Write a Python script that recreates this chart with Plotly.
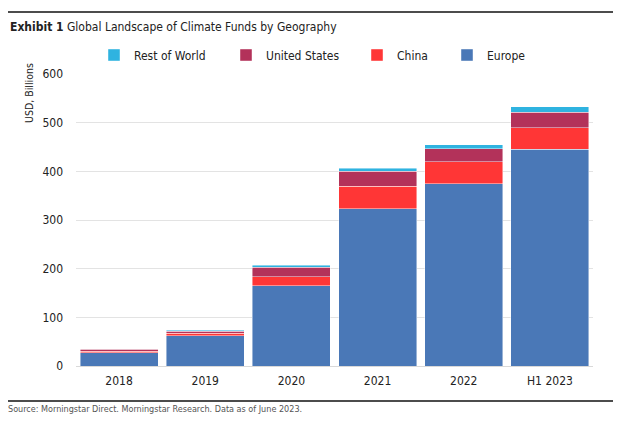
import plotly.graph_objects as go

categories = ["2018", "2019", "2020", "2021", "2022", "H1 2023"]
europe = [27, 62, 165, 323, 374, 445]
china = [3, 5.5, 18, 46, 46, 45]
united_states = [4, 4, 20, 31, 26, 31]
rest_of_world = [1, 1.5, 4.5, 6, 9, 12]

series = [
    ("Europe", europe, "#4a78b7"),
    ("China", china, "#ff3636"),
    ("United States", united_states, "#b3325a"),
    ("Rest of World", rest_of_world, "#2fb3e0"),
]

# page has an 8px body margin; work in page pixels and convert
OFF = 8
W, H = 623 - OFF, 421 - OFF
L, R, T, B = 76 - OFF, 593 - OFF, 74 - OFF, 366 - OFF
pw, ph = R - L, B - T


def px(x):
    return (x - OFF - L) / pw


def py(y):
    return (B - (y - OFF)) / ph


FONT = "DejaVu Sans Condensed, Liberation Sans Narrow, Roboto, sans-serif"

# page x of each legend box's left edge
legend_x = {"Rest of World": 94, "United States": 226, "China": 357, "Europe": 447}
legend_names = {"Europe": "legend4", "China": "legend3",
                "United States": "legend2", "Rest of World": "legend"}

fig = go.Figure()
for name, vals, color in series:
    fig.add_trace(go.Bar(
        x=categories, y=vals, name=name,
        marker=dict(color=color, line=dict(color="rgba(255,255,255,0.55)", width=0.8)),
        legend=legend_names[name],
    ))

legend_common = dict(orientation="h", xanchor="left", yanchor="middle",
                     font=dict(family=FONT, size=12, color="#222"),
                     bgcolor="rgba(0,0,0,0)", itemwidth=30)
layout_legends = {}
for name, key in legend_names.items():
    layout_legends[key] = dict(legend_common, x=px(legend_x[name]), y=py(55))

fig.update_layout(
    width=W, height=H,
    margin=dict(l=L, r=W - R, t=T, b=H - B),
    paper_bgcolor="white", plot_bgcolor="white",
    barmode="stack", bargap=0.095,
    font=dict(family=FONT, size=12, color="#222"),
    showlegend=True,
    xaxis=dict(showline=True, linecolor="#d9d9d9", linewidth=1, ticks="",
               ticklabelstandoff=4,
               tickfont=dict(family=FONT, size=12, color="#222")),
    yaxis=dict(range=[0, 600], dtick=100, showgrid=True, gridcolor="#e3e3e3",
               gridwidth=1, zeroline=False, ticks="", ticklabelstandoff=12,
               tickfont=dict(family=FONT, size=12, color="#222")),
    **layout_legends,
)

fig.add_annotation(
    xref="paper", yref="paper", x=px(8), y=py(27), xanchor="left", yanchor="middle",
    text="<b>Exhibit 1</b> Global Landscape of Climate Funds by Geography",
    showarrow=False, font=dict(family=FONT, size=12, color="#222"),
)
fig.add_annotation(
    xref="paper", yref="paper", x=px(29), y=py(61), xanchor="center", yanchor="top",
    text="USD, Billions", textangle=-90,
    showarrow=False, font=dict(family=FONT, size=10.5, color="#222"),
)
fig.add_annotation(
    xref="paper", yref="paper", x=px(6), y=py(409), xanchor="left", yanchor="middle",
    text="Source: Morningstar Direct. Morningstar Research. Data as of June 2023.",
    showarrow=False, font=dict(family=FONT, size=9, color="#555"),
)
for yy in (12, 401):
    fig.add_shape(type="line", xref="paper", yref="paper",
                  x0=px(8), x1=px(613), y0=py(yy), y1=py(yy),
                  line=dict(color="#111", width=1.3))

fig.write_html("out.html")
